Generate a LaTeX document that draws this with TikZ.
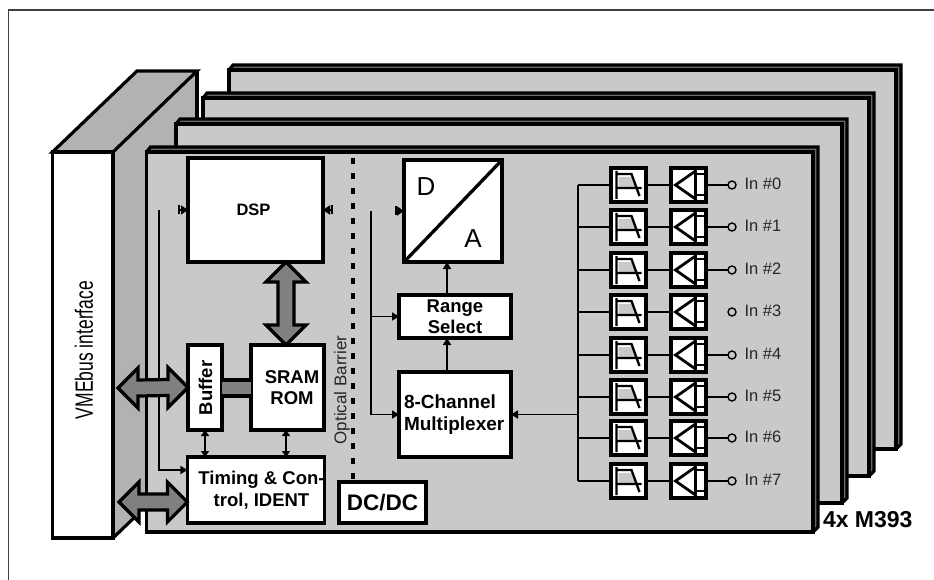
\documentclass[tikz,border=0pt]{standalone}
\usepackage{fontspec}
\setmainfont{Liberation Sans}
\usetikzlibrary{arrows.meta,calc}
\definecolor{boardgray}{gray}{0.79}
\definecolor{stripgray}{gray}{0.42}
\definecolor{sidegray}{gray}{0.70}
\definecolor{busgray}{gray}{0.50}
\definecolor{labelgray}{gray}{0.15}
\newcommand{\fs}[1]{\fontsize{#1}{#1}\selectfont}
\newcommand{\myboard}[4]{% L T R B
  \fill[stripgray] (#1,#2) -- ++(4,-5) -- (#3+5,#2-5) -- (#3+5,#4-5) -- (#3,#4) -- cycle;
  \draw[boardline] (#1,#2) -- ++(4,-5) -- (#3+5,#2-5) -- (#3+5,#4-5) -- (#3,#4);
  \draw[boardline,fill=boardgray] (#1,#2) rectangle (#3,#4);
}
\newcommand{\bighor}[2]{% from coordinate #1 (left tip) to #2 (right tip)
  \draw[bigbus] (#1) -- ($(#1)+(20,-20)$) -- ($(#1)+(20,-8)$) -- ($(#2)+(-20,-8)$) -- ($(#2)+(-20,-20)$) -- (#2)
     -- ($(#2)+(-20,20)$) -- ($(#2)+(-20,8)$) -- ($(#1)+(20,8)$) -- ($(#1)+(20,20)$) -- cycle;
}
\tikzset{
  x=1pt,y=-1pt,
  boardline/.style={line width=3.2pt,line join=miter},
  box/.style={draw,fill=white,line width=3.3pt,inner sep=0pt,outer sep=0pt,align=center,font=\bfseries\fs{18.5}},
  fbox/.style={draw,fill=white,line width=3.6pt,inner sep=0pt,outer sep=0pt,minimum width=35pt,minimum height=34pt},
  bigbus/.style={draw,fill=busgray,line width=3.2pt,line join=miter},
  wire/.style={line width=2.9pt},
  thin wire/.style={line width=1.6pt},
  tip/.style={-{Triangle[length=7pt,width=8pt]}},
  stub/.style={{Bar[width=9pt,length=1.5pt]}-{Triangle[length=7pt,width=9pt]},line width=1.8pt},
  both/.style={{Triangle[length=6pt,width=8pt]}-{Triangle[length=6pt,width=8pt]},line width=2pt},
  plain/.style={inner sep=0pt,outer sep=0pt},
  inlabel/.style={plain,anchor=west,text=labelgray,font=\fs{16.5}},
}
\begin{document}
\begin{tikzpicture}
\useasboundingbox (0,0) rectangle (934,580);
\fill[white] (0,0) rectangle (934,580);
% outer frame
\draw[black!75,line width=1.5pt] (8.5,580) -- (8.5,10) -- (934,10);
% VME module
\fill[sidegray] (113,152) -- (197,71) -- (197,170) -- (146,170) -- (146,507) -- (113,538) -- cycle;
\draw[boardline] (197,71) -- (197,130);
\draw[boardline,fill=sidegray] (52.5,152) -- (137,71) -- (197,71) -- (113,152) -- cycle;
\draw[boardline] (113,538) -- (138,514);
\node[draw,fill=white,line width=3.2pt,plain,minimum width=60.5pt,minimum height=386pt] (vme) at (82.75,345) {};
\node[plain,rotate=90,font=\fs{25}] (vmetext) at (84,350) {\scalebox{0.7}[1]{VMEbus interface}};
% boards
\myboard{229}{70}{896}{449}
\myboard{203}{98}{869}{476}
\myboard{176}{124}{842}{503}
\myboard{146.5}{152}{813}{532}
% optical barrier
\node[plain,rotate=90,text=labelgray,font=\fs{17}] (optical) at (342,390) {Optical Barrier};
\coordinate (barriertop) at (353,158);
% blocks
\node[box,minimum width=135pt,minimum height=104pt,font=\bfseries\fs{16.5}] (dsp) at (255.5,210) {\hspace*{-4pt}DSP};
\node[box,minimum width=73pt,minimum height=85pt] (sram) at (287.5,387.5) {\hspace*{9pt}SRAM\\[3pt]\hspace*{9pt}ROM};
\node[box,minimum width=34pt,minimum height=85pt] (buffer) at (205,387.5) {};
\node[plain,rotate=90,font=\bfseries\fs{18.5}] (buffertext) at (205.5,388) {Buffer};
\node[box,minimum width=136pt,minimum height=66pt] (timing) at (256,490) {\hspace*{11pt}Timing \& Con-\\[3pt]\hspace*{11pt}trol, IDENT};
\node[box,minimum width=87pt,minimum height=41pt,font=\bfseries\fs{22.5}] (dcdc) at (382.5,502.5) {DC/DC};
\node[box,minimum width=112pt,minimum height=85pt,align=left,font=\bfseries\fs{19}] (mux) at (455,414.5) {\raisebox{3pt}{\parbox{102pt}{8-Channel\\[3pt]Multiplexer}}};
\node[box,minimum width=112pt,minimum height=43pt] (range) at (455,316.5) {Range\\[3pt]Select};
\node[box,minimum width=98pt,minimum height=102pt] (da) at (453,211) {};
\draw[line width=3.3pt] (da.south west) -- (da.north east);
\node[plain,font=\fs{26}] (dlabel) at (426,187) {D};
\node[plain,font=\fs{26}] (alabel) at (473,239) {A};
% barrier
\draw[line width=3.4pt,dash pattern=on 6pt off 9pt] (barriertop) -- (barriertop |- dcdc.north);
% big buses
\draw[bigbus] (dsp.south -| 286,262) -- (266,282) -- (278,282) -- (278,325) -- (266,325) -- (286,345) -- (306,325) -- (294,325) -- (294,282) -- (306,282) -- cycle;
\fill[busgray] (buffer.east |- 0,380) rectangle (sram.west |- 0,396);
\draw[boardline] (buffer.east |- 0,380) -- (sram.west |- 0,380) (buffer.east |- 0,396) -- (sram.west |- 0,396);
% thin wires
\coordinate (leftwire) at (159,210);
\coordinate (midwire) at (371,211);
\coordinate (bustop) at (578,185);
\draw[thin wire,tip] (leftwire) |- (timing.west |- 0,470);
\draw[thin wire] (midwire) -- (midwire |- mux.west);
\draw[thin wire,tip] (midwire |- range.west) -- (range.west);
\draw[thin wire,tip] (midwire |- mux.west) -- (mux.west);
\coordinate (dspl) at (178,210);
\coordinate (dspr) at (333,210);
\coordinate (dal) at (395,211);
\draw[stub] (dspl) -- (dspl -| dsp.west);
\draw[stub] (dspr) -- (dspr -| dsp.east);
\draw[stub] (dal) -- (dal -| da.west);
\draw[tip,line width=2pt] (range.north -| 447,0) -- (da.south -| 447,0);
\draw[tip,line width=2pt] (mux.north -| 447,0) -- (range.south -| 447,0);
\draw[both] (buffer.south) -- (buffer.south |- timing.north);
\draw[both] (sram.south -| 286,0) -- (timing.north -| 286,0);
\draw[thin wire,tip] (bustop |- mux.east) -- (mux.east);
% VME buses
\coordinate (busa) at (118,388);
\coordinate (busb) at (119,502);
\coordinate (busc) at (timing.west |- busb);
\bighor{busa}{buffer.west}
\bighor{busb}{busc}
% channels
\foreach \i/\y in {0/185,1/227,2/270,3/312,4/355,5/397,6/438,7/481}{
  \node[fbox] (f\i) at (628.5,\y) {};
  \node[fbox] (a\i) at (688.5,\y) {};
  \draw[wire] (bustop |- f\i.west) -- (f\i.west);
  \draw[wire] (f\i.east) -- (a\i.west);
  \node[draw,circle,plain,line width=1.4pt,minimum size=8pt] (c\i) at (732,\y) {};
  \node[inlabel] (t\i) at (744.5,\y-1) {In \#\i};
  \begin{scope}[shift={(f\i.center)}]
    \fill[boardgray] (-10,-8) -- (3,-8) -- (7.5,3) -- (-10,3) -- cycle;
    \draw[line width=2.3pt] (-12,-14) -- (-12,14) (-12,3) -- (13,3) (-12,-11) -- (3,-11) -- (11,11);
  \end{scope}
  \begin{scope}[shift={(a\i.center)}]
    \draw[line width=2.6pt] (7,-16) -- (7,16) (7,-11) -- (15,-11) (7,10) -- (15,10);
    \draw[line width=2.8pt,line join=miter] (7,-14) -- (-13,0) -- (7,14);
  \end{scope}
}
\foreach \i in {0,1,2,4,5,6,7}{\draw[thin wire] (a\i.east) -- (c\i.west);}
\draw[wire] (bustop) -- (bustop |- f7.west);
\node[plain,anchor=west,font=\bfseries\fs{23}] (m393) at (823,520) {4x M393};
\end{tikzpicture}
\end{document}
